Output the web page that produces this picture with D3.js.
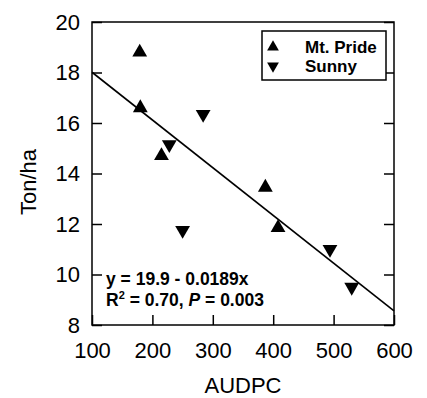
<!DOCTYPE html>
<html>
<head>
<meta charset="utf-8">
<script src="https://cdn.jsdelivr.net/npm/d3@7"></script>
<style>
  body { margin: 0; background: #fff; }
  svg { display: block; font-family: "Liberation Sans", Arial, sans-serif; }
</style>
</head>
<body>
<div id="container"></div>
<script>
const width = 427;
const height = 398;

// AUDPC vs yield
const mtPrideX = [179, 180, 215, 387, 408];
const mtPrideY = [18.8, 16.6, 14.7, 13.45, 11.85];
const sunnyX = [228, 284, 250, 494, 530];
const sunnyY = [15.15, 16.35, 11.75, 11.0, 9.5];

// fitted line endpoints (y = 19.9 - 0.0189x)
const fitX = [100, 600];
const fitY = [18.01, 8.56];

const xTicks = [100, 200, 300, 400, 500, 600];
const yTicks = [8, 10, 12, 14, 16, 18, 20];

const plotLeft = 92, plotRight = 394, plotTop = 22, plotBottom = 325;

const x = d3.scaleLinear().domain([100, 600]).range([plotLeft, plotRight]);
const y = d3.scaleLinear().domain([8, 20]).range([plotBottom, plotTop]);

const svg = d3.select('#container').append('svg')
  .attr('width', width)
  .attr('height', height);

// axes
const styleAxis = g => {
  g.select('.domain').remove();
  g.selectAll('line').attr('stroke', '#000').attr('stroke-width', 1.5);
  g.selectAll('text').attr('fill', '#000').attr('font-size', 22)
    .attr('font-family', '"Liberation Sans", Arial, sans-serif');
};

svg.append('g')
  .attr('transform', `translate(${plotLeft},0)`)
  .call(d3.axisLeft(y).tickValues(yTicks).tickSizeInner(-10).tickSizeOuter(0).tickPadding(12))
  .call(styleAxis);

svg.append('g')
  .attr('transform', `translate(${plotRight},0)`)
  .call(d3.axisRight(y).tickValues(yTicks).tickSizeInner(-10).tickSizeOuter(0).tickFormat(''))
  .call(styleAxis);

svg.append('g')
  .attr('transform', `translate(0,${plotBottom})`)
  .call(d3.axisBottom(x).tickValues(xTicks).tickSizeInner(-10).tickSizeOuter(0).tickPadding(17))
  .call(styleAxis);

// frame
svg.append('rect')
  .attr('x', plotLeft)
  .attr('y', plotTop)
  .attr('width', plotRight - plotLeft)
  .attr('height', plotBottom - plotTop)
  .attr('fill', 'none')
  .attr('stroke', '#000')
  .attr('stroke-width', 1.5);

// axis titles
svg.append('text')
  .attr('x', (plotLeft + plotRight) / 2)
  .attr('y', 393)
  .attr('text-anchor', 'middle')
  .attr('font-size', 22)
  .text('AUDPC');

svg.append('text')
  .attr('transform', 'translate(36,182) rotate(-90)')
  .attr('text-anchor', 'middle')
  .attr('font-size', 22)
  .text('Ton/ha');

// regression line
svg.append('line')
  .attr('x1', x(fitX[0]))
  .attr('y1', y(fitY[0]))
  .attr('x2', x(fitX[1]))
  .attr('y2', y(fitY[1]))
  .attr('stroke', '#000')
  .attr('stroke-width', 1.6);

// points
const tri = d3.symbol().type(d3.symbolTriangle).size(95);

svg.append('g')
  .selectAll('path')
  .data(d3.zip(mtPrideX, mtPrideY))
  .join('path')
  .attr('d', tri)
  .attr('transform', d => `translate(${x(d[0])},${y(d[1])})`)
  .attr('fill', '#000');

svg.append('g')
  .selectAll('path')
  .data(d3.zip(sunnyX, sunnyY))
  .join('path')
  .attr('d', tri)
  .attr('transform', d => `translate(${x(d[0])},${y(d[1])}) rotate(180)`)
  .attr('fill', '#000');

// legend
const legend = svg.append('g');
legend.append('rect')
  .attr('x', 262)
  .attr('y', 31)
  .attr('width', 124)
  .attr('height', 49)
  .attr('fill', '#fff')
  .attr('stroke', '#000')
  .attr('stroke-width', 1.5);

const legendSym = d3.symbol().type(d3.symbolTriangle).size(60);
legend.append('path')
  .attr('d', legendSym)
  .attr('transform', 'translate(273,47)')
  .attr('fill', '#000');
legend.append('path')
  .attr('d', legendSym)
  .attr('transform', 'translate(273,66) rotate(180)')
  .attr('fill', '#000');

legend.append('text')
  .attr('x', 305)
  .attr('y', 52.5)
  .attr('font-size', 17)
  .attr('font-weight', 'bold')
  .text('Mt. Pride');
legend.append('text')
  .attr('x', 305)
  .attr('y', 72)
  .attr('font-size', 17)
  .attr('font-weight', 'bold')
  .text('Sunny');

// equation
const eq = svg.append('g')
  .attr('font-size', 17.5)
  .attr('font-weight', 'bold');

eq.append('text')
  .attr('x', 106)
  .attr('y', 285)
  .text('y = 19.9 - 0.0189x');

const eq2 = eq.append('text')
  .attr('x', 106)
  .attr('y', 306);
eq2.append('tspan').text('R');
eq2.append('tspan').attr('dy', -7).attr('font-size', 11).text('2');
eq2.append('tspan').attr('dy', 7).text(' = 0.70, ');
eq2.append('tspan').attr('font-style', 'italic').text('P');
eq2.append('tspan').text(' = 0.003');
</script>
</body>
</html>
